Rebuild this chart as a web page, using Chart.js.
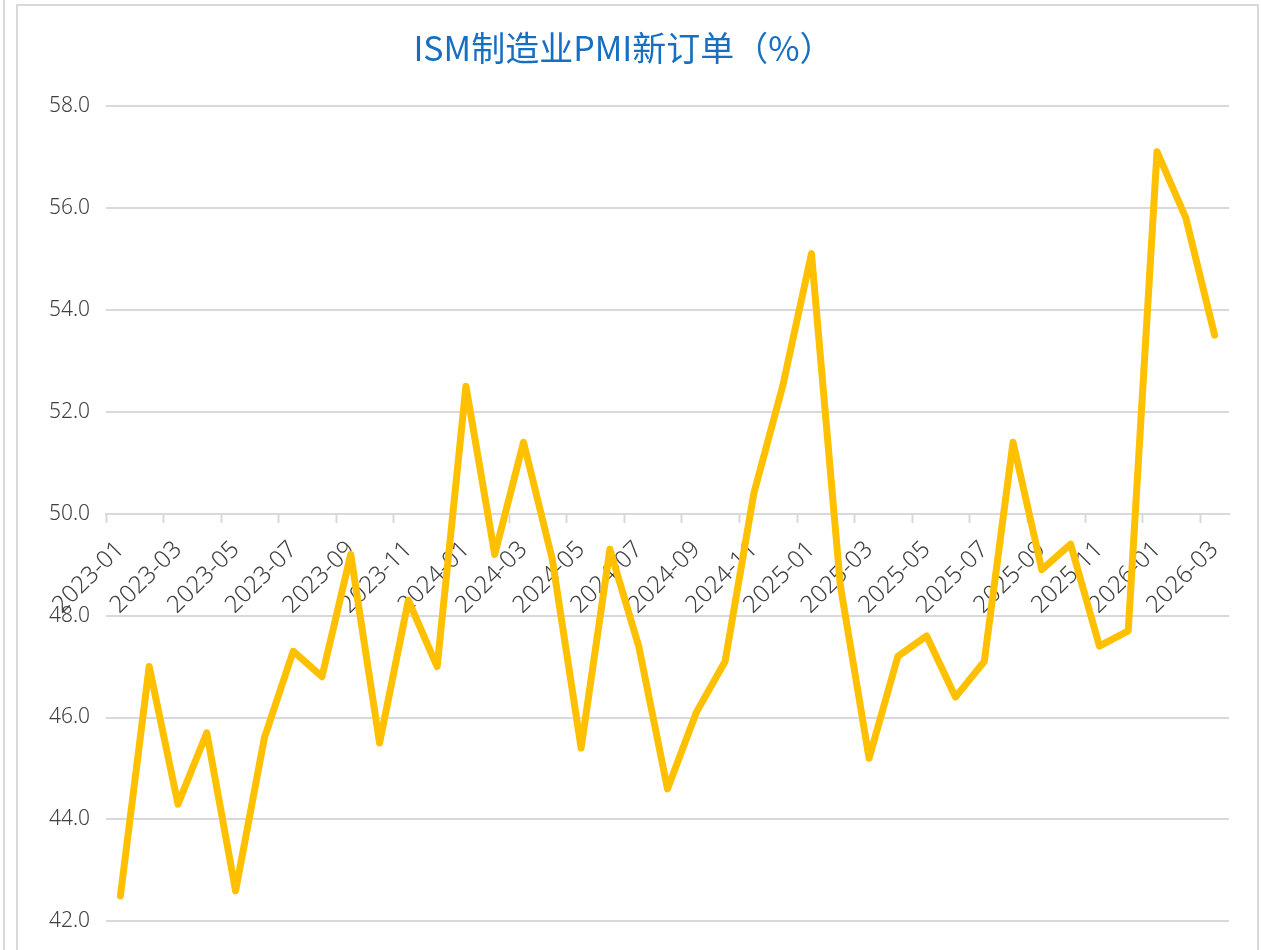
<!DOCTYPE html>
<html>
<head>
<meta charset="utf-8">
<script src="https://cdn.jsdelivr.net/npm/chart.js@4"></script>
<style>
  html, body { margin: 0; padding: 0; background: #fff; overflow: hidden; }
  #outer { position: absolute; left: 3px; top: 0; width: 2px; height: 950px; background: #d9d9d9; }
  #box { position: absolute; left: 16px; top: 4px; border: 2px solid #d9d9d9; border-bottom: none; width: 1239px; height: 944px; }
</style>
</head>
<body>
<div id="outer"></div>
<div id="box"><canvas id="c" width="1239" height="944"></canvas></div>
<script>
const months = [
  "2023-01","2023-02","2023-03","2023-04","2023-05","2023-06","2023-07","2023-08","2023-09","2023-10","2023-11","2023-12",
  "2024-01","2024-02","2024-03","2024-04","2024-05","2024-06","2024-07","2024-08","2024-09","2024-10","2024-11","2024-12",
  "2025-01","2025-02","2025-03","2025-04","2025-05","2025-06","2025-07","2025-08","2025-09","2025-10","2025-11","2025-12",
  "2026-01","2026-02","2026-03"
]
const newOrders = [
  42.5, 47.0, 44.3, 45.7, 42.6, 45.6, 47.3, 46.8, 49.2, 45.5, 48.3, 47.0,
  52.5, 49.2, 51.4, 49.1, 45.4, 49.3, 47.4, 44.6, 46.1, 47.1, 50.4, 52.5,
  55.1, 48.6, 45.2, 47.2, 47.6, 46.4, 47.1, 51.4, 48.9, 49.4, 47.4, 47.7,
  57.1, 55.8, 53.5
]
const yMin = 42
const yMax = 58
const yStep = 2

const grey = "#d9d9d9"
const textColor = "#404040"

new Chart(document.getElementById("c").getContext("2d"), {
  type: "line",
  data: {
    labels: months,
    datasets: [{
      label: "ISM制造业PMI新订单",
      data: newOrders,
      borderColor: "#FFC000",
      borderWidth: 7,
      borderCapStyle: "round",
      borderJoinStyle: "round",
      pointRadius: 0,
      tension: 0,
      fill: false,
    }],
  },
  options: {
    responsive: false,
    animation: false,
    layout: { padding: { left: 0, right: 28, top: 0, bottom: 28 } },
    plugins: {
      legend: { display: false },
      tooltip: { enabled: false },
      title: {
        display: true,
        text: "ISM制造业PMI新订单（%）",
        color: "#176fc1",
        font: { family: "'Noto Sans CJK SC', 'Noto Sans', sans-serif", size: 34, weight: "normal", lineHeight: 1.2 },
        padding: { top: 22, bottom: 37 },
      },
    },
    scales: {
      x: {
        type: "category",
        position: { y: 50 },
        offset: true,
        border: { display: true, color: grey, width: 2 },
        grid: {
          offset: true,
          drawOnChartArea: false,
          drawTicks: true,
          tickLength: 8,
          tickWidth: 2,
          tickColor: (ctx) => (ctx.index % 2 === 0 ? grey : "rgba(0,0,0,0)"),
        },
        ticks: {
          autoSkip: false,
          maxRotation: 45,
          minRotation: 45,
          padding: 14,
          color: textColor,
          font: { family: "'Noto Sans', sans-serif", size: 24, weight: 300 },
          callback: function (value, index) {
            return index % 2 === 0 ? this.getLabelForValue(value) : ""
          },
        },
      },
      y: {
        min: yMin,
        max: yMax,
        border: { display: false },
        grid: { color: grey, lineWidth: 2, drawTicks: false },
        afterFit: (scale) => { scale.width = 88 },
        ticks: {
          stepSize: yStep,
          padding: 16,
          color: textColor,
          font: { family: "'Noto Sans', sans-serif", size: 21, weight: 300 },
          callback: (v) => v.toFixed(1),
        },
      },
    },
  },
})
</script>
</body>
</html>
